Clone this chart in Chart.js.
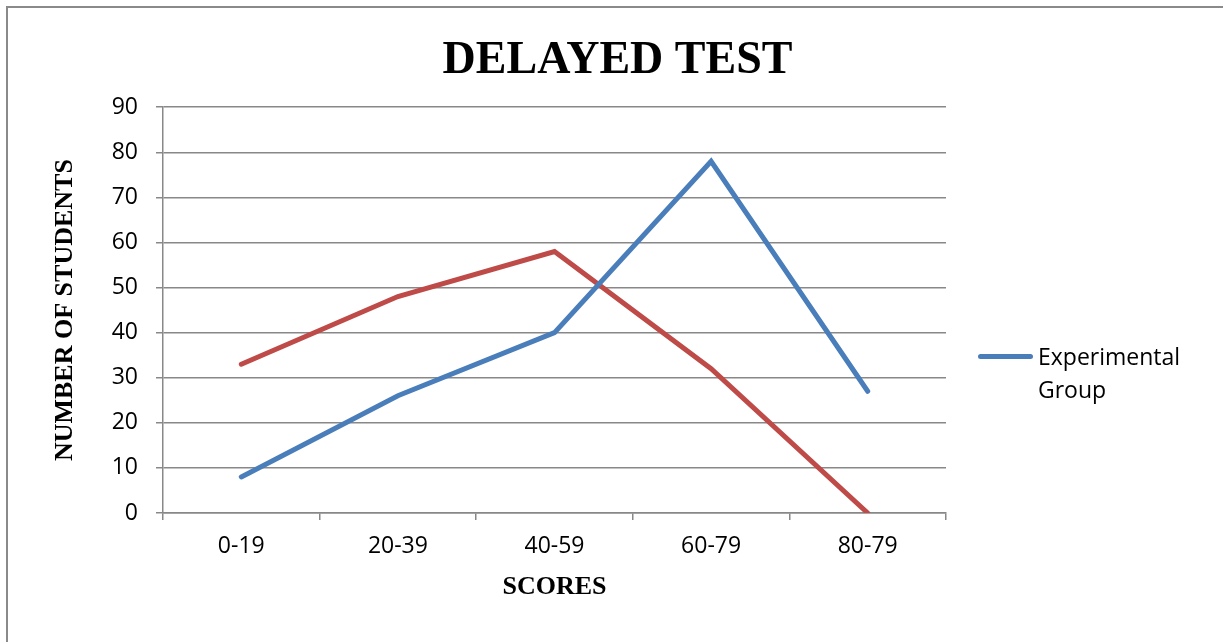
<!DOCTYPE html>
<html>
<head>
<meta charset="utf-8">
<script src="https://cdn.jsdelivr.net/npm/chart.js@4"></script>
<style>
  body { margin: 0; background: #fff; }
  #wrap { position: relative; width: 1223px; height: 642px; overflow: hidden; }
  #frame { position: absolute; left: 6px; top: 6px; width: 1300px; height: 700px;
           border-left: 2px solid #8a8a8a; border-top: 2px solid #8a8a8a; }
  #chart { position: absolute; left: 0; top: 0; }
  #legend { position: absolute; left: 978px; top: 340px; font-family: "Open Sans", sans-serif;
            font-size: 23px; line-height: 33px; color: #000; }
  #legend .swatch { position: absolute; left: 0; top: 14px; width: 55px; height: 5px;
                    border-radius: 3px; background: #4a7ebb; }
  #legend .text { margin-left: 60px; }
</style>
</head>
<body>
<div id="wrap">
  <div id="frame"></div>
  <canvas id="chart" width="1223" height="642"></canvas>
  <div id="legend"><span class="swatch"></span><div class="text">Experimental<br>Group</div></div>
</div>
<script>
const categories = ['0-19', '20-39', '40-59', '60-79', '80-79']
const experimentalGroup = [8, 26, 40, 78, 27]
const controlGroup = [33, 48, 58, 32, 0]
const yTicks = { min: 0, max: 90, step: 10 }

const gridColor = '#888888'
const tickFont = { family: 'Open Sans', size: 23 }
const serifBold = (size) => ({ family: 'Liberation Serif', size, weight: 'bold' })

const config = {
  type: 'line',
  data: {
    labels: categories,
    datasets: [
      {
        label: 'Experimental Group',
        data: experimentalGroup,
        borderColor: '#4a7ebb',
        borderWidth: 5,
        borderCapStyle: 'round',
        pointRadius: 0,
        tension: 0,
      },
      {
        label: '',
        data: controlGroup,
        borderColor: '#be4b48',
        borderWidth: 5,
        borderCapStyle: 'round',
        pointRadius: 0,
        tension: 0,
      },
    ],
  },
  options: {
    responsive: false,
    animation: false,
    layout: { padding: { left: 50, right: 38, top: 0, bottom: 39 } },
    scales: {
      x: {
        offset: true,
        grid: {
          offset: true,
          drawOnChartArea: false,
          drawTicks: true,
          tickLength: 7,
          color: gridColor,
          lineWidth: 1.5,
        },
        border: { color: gridColor, width: 1.5 },
        ticks: { color: '#000', font: tickFont, padding: 13, maxRotation: 0 },
        title: { display: true, text: 'SCORES', color: '#000', font: serifBold(26), padding: 0 },
        afterFit: (scale) => { scale.height = 90 },
      },
      y: {
        min: yTicks.min,
        max: yTicks.max,
        grid: { color: gridColor, lineWidth: 1.5, tickLength: 7 },
        border: { color: gridColor, width: 1.5 },
        ticks: { stepSize: yTicks.step, color: '#000', font: tickFont, padding: 18 },
        title: { display: true, text: 'NUMBER OF STUDENTS', color: '#000', font: serifBold(26), padding: 0 },
        afterFit: (scale) => { scale.width = 113 },
      },
      // empty right-hand axis that keeps room for the legend
      side: {
        position: 'right',
        display: true,
        grid: { display: false },
        border: { display: false },
        ticks: { display: false },
        afterFit: (scale) => { scale.width = 239 },
      },
    },
    plugins: {
      legend: { display: false },
      tooltip: { enabled: false },
      title: {
        display: true,
        text: 'DELAYED TEST',
        color: '#000',
        font: serifBold(46),
        padding: { top: 34, bottom: 18 },
      },
    },
  },
}

new Chart(document.getElementById('chart'), config)
</script>
</body>
</html>
